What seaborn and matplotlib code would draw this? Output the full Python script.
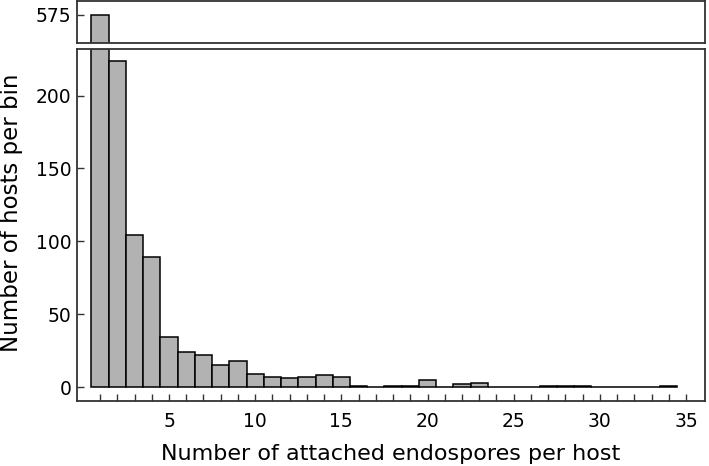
import numpy as np
import pandas as pd
import matplotlib
matplotlib.use("Agg")
import matplotlib.pyplot as plt
import seaborn as sns

# Data (attached endospores per host -> number of hosts)
endospores = list(range(1, 35))
hosts = [575, 224, 104, 89, 34, 24, 22, 15, 18, 9,
         7, 6, 7, 8, 7, 1, 0, 1, 1, 5,
         0, 2, 3, 0, 0, 0, 1, 1, 1, 0,
         0, 0, 0, 1]
x_ticks = [5, 10, 15, 20, 25, 30, 35]
y_ticks_low = [0, 50, 100, 150, 200]
y_ticks_high = [575]

df = pd.DataFrame({"endospores": endospores, "hosts": hosts})

sns.set_style("white")
plt.rcParams["font.family"] = ["DejaVu Sans"]
plt.rcParams["text.color"] = "black"
plt.rcParams["xtick.labelcolor"] = "black"
plt.rcParams["ytick.labelcolor"] = "black"
plt.rcParams["axes.labelcolor"] = "black"

fig = plt.figure(figsize=(7.09, 4.66), dpi=100)
ax_top = fig.add_axes([77/709, 1 - 43/466, (705-77)/709, (43-1)/466])
ax_bot = fig.add_axes([77/709, 1 - 401/466, (705-77)/709, (401-49)/466])

for ax in (ax_top, ax_bot):
    sns.histplot(data=df, x="endospores", weights="hosts", discrete=True, ax=ax,
                 color="#b2b2b2", edgecolor="black", linewidth=1.1, alpha=1.0)
    ax.set_xlim(-0.34, 36.1)
    for s in ax.spines.values():
        s.set_visible(True)
        s.set_color("#333333")
        s.set_linewidth(1.3)
    ax.set_xlabel("")
    ax.set_ylabel("")

ax_bot.set_ylim(-9.6, 232)
ax_top.set_ylim(555.7, 584.6)

ax_bot.set_yticks(y_ticks_low)
ax_top.set_yticks(y_ticks_high)
ax_top.set_xticks([])

ax_bot.set_xticks(x_ticks)
ax_bot.set_xticks(endospores + [35], minor=True)
for ax in (ax_top, ax_bot):
    ax.tick_params(axis="y", direction="in", length=5, width=1, color="#333333",
                   labelsize=13.5, pad=4, left=True, labelcolor="black")
ax_bot.tick_params(axis="x", which="both", direction="in", length=5, width=1,
                   color="#333333", labelsize=13.5, pad=8, bottom=True,
                   labelcolor="black")

ax_bot.set_xlabel("Number of attached endospores per host", fontsize=16,
                  labelpad=9, color="black")
fig.text(0.016, 1 - 213/466, "Number of hosts per bin", rotation=90,
         fontsize=16.5, ha="center", va="center", color="black")

fig.savefig("out.png", dpi=100)
